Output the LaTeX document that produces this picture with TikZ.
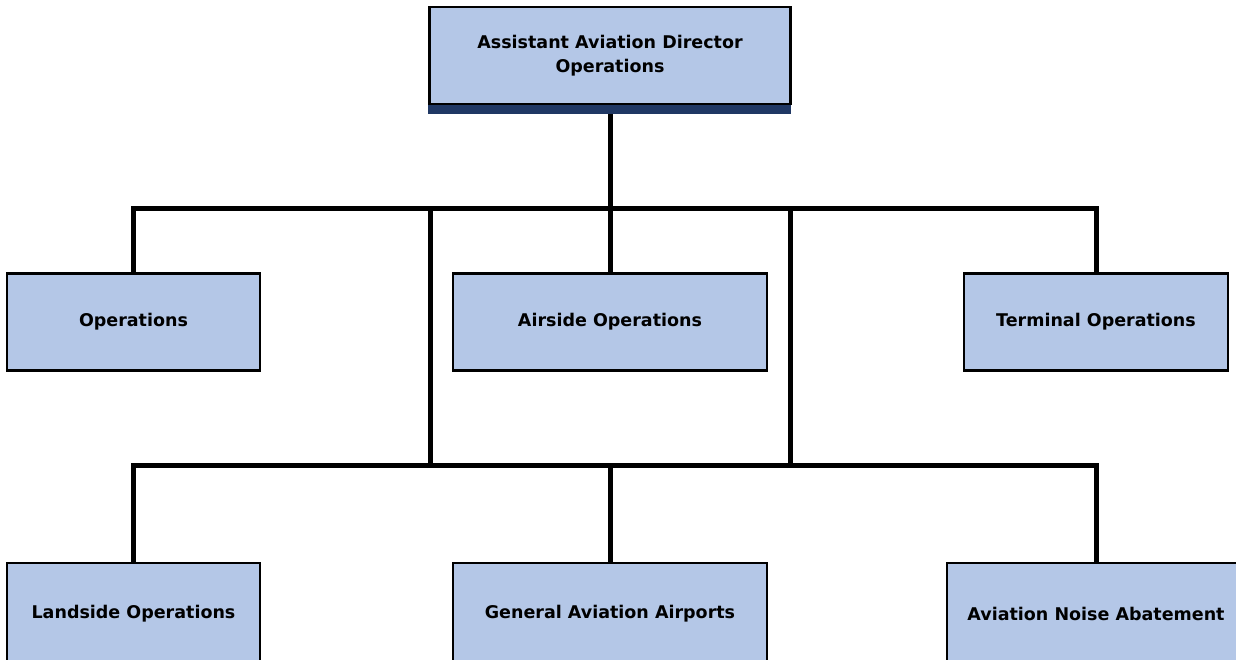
\documentclass[tikz,border=0pt]{standalone}
\usepackage{fontspec}
\setmainfont{DejaVu Sans}

\definecolor{boxblue}{RGB}{180,199,231}
\definecolor{navy}{RGB}{32,56,100}

\tikzset{
    unit/.style={draw=black, line width=2.5pt, fill=boxblue, font=\bfseries\fontsize{17.5}{24}\selectfont,
                 align=center, inner sep=0pt, minimum height=97pt},
    wire/.style={line width=5pt}
}

\begin{document}
\begin{tikzpicture}[x=1pt,y=-1pt]
    \useasboundingbox (0,0) rectangle (1236,660);

    \coordinate (bus)  at (610,209);
    \coordinate (busL) at (430,209);
    \coordinate (busR) at (790,209);
    \coordinate (bus2) at (610,465);

    \node[unit, minimum width=361pt] (head) at (610,55.5) {Assistant Aviation Director\\Operations};
    \node[unit, minimum width=253pt] (ops)  at (133.5,322) {Operations};
    \node[unit, minimum width=314pt] (air)  at (610,322)   {Airside Operations};
    \node[unit, minimum width=264pt] (term) at (1096,322)  {Terminal Operations};
    \node[unit, minimum width=253pt, minimum height=102pt] (land)  at (133.5,614) {Landside Operations};
    \node[unit, minimum width=314pt, minimum height=102pt] (gen)   at (610,614)   {General Aviation Airports};
    \node[unit, minimum width=298pt, minimum height=102pt] (noise) at (1096,614)  {Aviation Noise Abatement};

    % shadow bar under the head box
    \fill[navy] (head.south west) rectangle ([xshift=-1pt,yshift=-9pt]head.south east);

    \draw[wire] ([yshift=-9pt]head.south) -- (bus) -- (air.north);
    \draw[wire] (ops.north) |- (bus) -| (term.north);
    \draw[wire] (busL) -- (busL |- bus2);
    \draw[wire] (busR) -- (busR |- bus2);
    \draw[wire] (land.north) |- (bus2) -| (noise.north);
    \draw[wire] (bus2) -- (gen.north);
\end{tikzpicture}
\end{document}
